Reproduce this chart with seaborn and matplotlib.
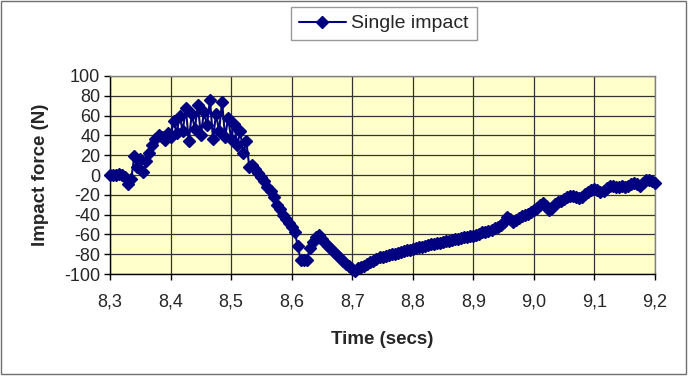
import numpy as np
import pandas as pd
import matplotlib
matplotlib.use("Agg")
import matplotlib.pyplot as plt
from matplotlib.patches import Rectangle
import seaborn as sns

# time grid (s), sampled every 5 ms
time = np.round(np.arange(8.3, 9.2001, 0.005), 3)

# impact force (N)
force = [
    0, 0, 0, 1, 0, -2, -9, -4, 19, 8,
    16, 3, 14, 22, 30, 36, 40, 38, 35, 42,
    38, 55, 42, 60, 44, 68, 34, 62, 46, 71,
    40, 64, 50, 76, 36, 62, 44, 74, 38, 58,
    36, 52, 30, 44, 22, 34, 8, 10, 6, 2,
    -2, -6, -12, -16, -22, -30, -34, -40, -44, -48,
    -52, -57, -72, -86, -86, -86, -74, -68, -63, -61,
    -65, -69, -72, -75, -78, -81, -84, -87, -90, -92,
    -95, -97, -94, -93, -92, -90, -88, -87, -85, -83,
    -83, -82, -81, -80, -80, -79, -78, -77, -76, -76,
    -75, -74, -73, -73, -72, -71, -70, -70, -69, -69,
    -68, -67, -67, -66, -65, -65, -64, -63, -63, -62,
    -62, -61, -60, -58, -57, -56, -55, -53, -52, -50,
    -47, -42, -44, -47, -45, -43, -41, -40, -39, -37,
    -35, -33, -30, -28, -31, -35, -33, -29, -27, -26,
    -24, -22, -21, -21, -22, -23, -22, -19, -17, -15,
    -14, -15, -17, -16, -13, -11, -11, -12, -12, -11,
    -12, -11, -9, -8, -9, -11, -8, -5, -5, -6,
    -8,
]

x_ticks = [8.3, 8.4, 8.5, 8.6, 8.7, 8.8, 8.9, 9.0, 9.1, 9.2]
x_tick_labels = ['8,3', '8,4', '8,5', '8,6', '8,7', '8,8', '8,9', '9,0', '9,1', '9,2']
y_ticks = [100, 80, 60, 40, 20, 0, -20, -40, -60, -80, -100]

df = pd.DataFrame({'time': time, 'force': force})

sns.set_style('white')
plt.rcParams['font.family'] = ['Liberation Sans', 'DejaVu Sans']
plt.rcParams['axes.unicode_minus'] = False

fig = plt.figure(figsize=(6.88, 3.76), dpi=100)
ax = fig.add_axes([0.160, 0.271, 0.792, 0.527])
ax.set_facecolor('#FFFFCC')

sns.lineplot(data=df, x='time', y='force', ax=ax, color='#000080',
             marker='D', markersize=6.3, markeredgecolor='#000080',
             markeredgewidth=1, linewidth=1.5, sort=False, estimator=None,
             label='Single impact', clip_on=False, zorder=3)

ax.set_xlim(8.3, 9.2)
ax.set_ylim(-100, 100)
ax.set_xticks(x_ticks)
ax.set_xticklabels(x_tick_labels)
ax.set_yticks(y_ticks)
ax.grid(True, color='#333333', linewidth=0.9)
ax.set_axisbelow(True)
ax.tick_params(axis='x', pad=10)
ax.tick_params(axis='y', pad=3)
ax.tick_params(axis='both', direction='out', length=4, width=1, color='black',
               labelsize=13, left=True, bottom=True)

for side in ['top', 'right']:
    ax.spines[side].set_color('#808080')
for side in ['left', 'bottom']:
    ax.spines[side].set_color('black')
for sp in ax.spines.values():
    sp.set_linewidth(1)
    sp.set_visible(True)

ax.set_xlabel('Time (secs)', fontsize=13.5, fontweight='bold', labelpad=15)
ax.set_ylabel('Impact force (N)', fontsize=13.5, fontweight='bold', labelpad=11)

ax.get_legend().remove()
leg = fig.legend(loc='center', bbox_to_anchor=(0.558, 0.937), fontsize=14,
                 frameon=True, fancybox=False, edgecolor='#808080',
                 handlelength=2.4, borderpad=0.4, handletextpad=0.3)
leg.get_frame().set_linewidth(1)

fig.patches.append(Rectangle((0.001, 0.005), 0.996, 0.993, transform=fig.transFigure,
                             fill=False, edgecolor='#707070', linewidth=1))

fig.savefig('out.png', dpi=100)
